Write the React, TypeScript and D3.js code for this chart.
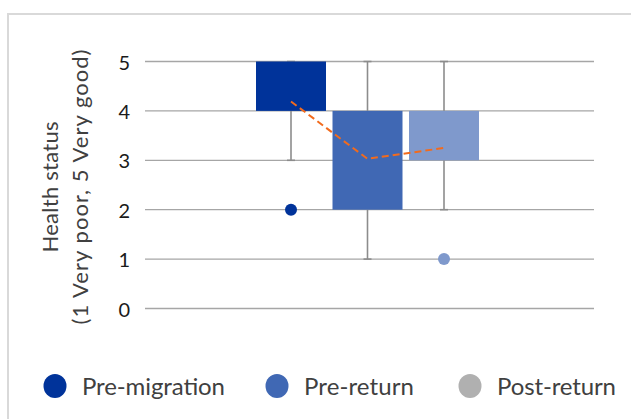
import React from "react";
import * as d3 from "d3";

const series = ["Pre-migration", "Pre-return", "Post-return"];
const q1 = [4, 2, 3];
const q3 = [5, 4, 4];
const whiskerLow = [3, 1, 2];
const whiskerHigh = [5, 5, 5];
const means = [4.19, 3.03, 3.25];
const outliers = [[2], [], [1]];
const yTicks = [0, 1, 2, 3, 4, 5];
const boxColors = ["#00339a", "#4068b4", "#7f99cc"];
const legendColors = ["#00339a", "#4068b4", "#b0b0b0"];

const W = 631;
const H = 419;
const FONT = "Lato, 'Open Sans', sans-serif";

export default function App() {
  const y = d3.scaleLinear().domain([0, 5]).range([308.5, 61.5]);
  const x = d3.scalePoint<string>().domain(series).range([291, 444]);
  const plotL = 145;
  const plotR = 594;
  const boxW = 70;
  const capW = 8;
  const meanLine = d3
    .line<number>()
    .x((_, i) => x(series[i]) as number)
    .y((d) => y(d));

  const legendX = [55, 277, 470];
  const legendLen = [143, 110, 119];

  return (
    <svg
      width={W}
      height={H}
      style={{ position: "absolute", left: 0, top: 0, background: "#fff" }}
      fontFamily={FONT}
    >
      <rect x={0} y={0} width={W} height={H} fill="#fff" />
      <rect x={8} y={14} width={W + 20} height={H + 20} fill="none" stroke="#d9d9d9" strokeWidth={2} />

      {yTicks.map((t) => (
        <g key={t}>
          <line x1={plotL} x2={plotR} y1={y(t)} y2={y(t)} stroke="#a6a6a6" strokeWidth={1.3} />
          <text x={130} y={y(t)} dy="0.4em" textAnchor="end" fontSize={20} fill="#1a1a1a">
            {t}
          </text>
        </g>
      ))}

      <g transform={`translate(57.5, ${(y(0) + y(5)) / 2 + 2}) rotate(-90)`}>
        <text textAnchor="middle" fontSize={22} fill="#404040" textLength={131} lengthAdjust="spacing">
          Health status
        </text>
        <text textAnchor="middle" fontSize={22} fill="#404040" y={30} textLength={275} lengthAdjust="spacing">
          (1 Very poor, 5 Very good)
        </text>
      </g>

      {series.map((s, i) => {
        const cx = x(s) as number;
        return (
          <g key={s}>
            <line x1={cx} x2={cx} y1={y(whiskerLow[i])} y2={y(q1[i])} stroke="#8c8c8c" strokeWidth={1.6} />
            <line x1={cx} x2={cx} y1={y(whiskerHigh[i])} y2={y(q3[i])} stroke="#8c8c8c" strokeWidth={1.6} />
            <line x1={cx - capW / 2} x2={cx + capW / 2} y1={y(whiskerLow[i])} y2={y(whiskerLow[i])} stroke="#8c8c8c" strokeWidth={1.6} />
            <line x1={cx - capW / 2} x2={cx + capW / 2} y1={y(whiskerHigh[i])} y2={y(whiskerHigh[i])} stroke="#8c8c8c" strokeWidth={1.6} />
            <rect
              x={cx - boxW / 2}
              y={y(q3[i])}
              width={boxW}
              height={y(q1[i]) - y(q3[i])}
              fill={boxColors[i]}
            />
            {outliers[i].map((o, j) => (
              <circle key={j} cx={cx} cy={y(o)} r={6} fill={boxColors[i]} />
            ))}
          </g>
        );
      })}

      <path d={meanLine(means) || ""} fill="none" stroke="#f26b1d" strokeWidth={2} strokeDasharray="7,4" />

      {series.map((s, i) => (
        <g key={s} transform={`translate(${legendX[i]}, 386)`}>
          <ellipse cx={0} cy={0} rx={11.5} ry={12} fill={legendColors[i]} />
          <text x={27} y={8.5} fontSize={24} fill="#404040" textLength={legendLen[i]} lengthAdjust="spacing">
            {s}
          </text>
        </g>
      ))}
    </svg>
  );
}
